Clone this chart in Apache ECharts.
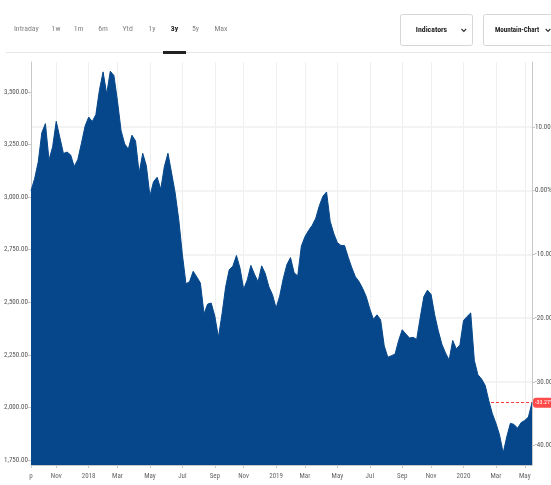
<!DOCTYPE html>
<html><head><meta charset="utf-8">
<script src="https://cdn.jsdelivr.net/npm/echarts@6/dist/echarts.min.js"></script>
<style>html,body{margin:0;padding:0;background:#fff}#c{width:551px;height:485px}</style>
</head><body><div id="c"></div>
<script>
// weekly dates (categories)
const dates = [
 '2017-09-15','2017-09-22','2017-09-29','2017-10-06','2017-10-13','2017-10-20','2017-10-27','2017-11-03','2017-11-10','2017-11-17','2017-11-24','2017-12-01','2017-12-08','2017-12-15','2017-12-22','2017-12-29',
 '2018-01-05','2018-01-12','2018-01-19','2018-01-26','2018-02-02','2018-02-09','2018-02-16','2018-02-23','2018-03-02','2018-03-09','2018-03-16','2018-03-23','2018-03-30','2018-04-06','2018-04-13','2018-04-20','2018-04-27',
 '2018-05-04','2018-05-11','2018-05-18','2018-05-25','2018-06-01','2018-06-08','2018-06-15','2018-06-22','2018-06-29','2018-07-06','2018-07-13','2018-07-20','2018-07-27','2018-08-03','2018-08-10','2018-08-17','2018-08-24','2018-08-31',
 '2018-09-07','2018-09-14','2018-09-21','2018-09-28','2018-10-05','2018-10-12','2018-10-19','2018-10-26','2018-11-02','2018-11-09','2018-11-16','2018-11-23','2018-11-30','2018-12-07','2018-12-14','2018-12-21','2018-12-28',
 '2019-01-04','2019-01-11','2019-01-18','2019-01-25','2019-02-01','2019-02-08','2019-02-15','2019-02-22','2019-03-01','2019-03-08','2019-03-15','2019-03-22','2019-03-29','2019-04-05','2019-04-12','2019-04-19','2019-04-26',
 '2019-05-03','2019-05-10','2019-05-17','2019-05-24','2019-05-31','2019-06-07','2019-06-14','2019-06-21','2019-06-28','2019-07-05','2019-07-12','2019-07-19','2019-07-26','2019-08-02','2019-08-09','2019-08-16','2019-08-23','2019-08-30',
 '2019-09-06','2019-09-13','2019-09-20','2019-09-27','2019-10-04','2019-10-11','2019-10-18','2019-10-25','2019-11-01','2019-11-08','2019-11-15','2019-11-22','2019-11-29','2019-12-06','2019-12-13','2019-12-20','2019-12-27',
 '2020-01-03','2020-01-10','2020-01-17','2020-01-24','2020-01-31','2020-02-07','2020-02-14','2020-02-21','2020-02-28','2020-03-06','2020-03-13','2020-03-20','2020-03-27','2020-04-03','2020-04-10','2020-04-17','2020-04-24',
 '2020-05-01','2020-05-08','2020-05-15'
];
const prices = [
 3030,3087,3166,3306,3349,3176,3239,3360,3283,3207,3214,3200,3145,3179,3256,3337,
 3380,3359,3392,3510,3595,3490,3598,3578,3455,3315,3252,3228,3294,3267,3115,3208,3149,
 3005,3073,3094,3037,3145,3208,3115,3019,2892,2726,2587,2598,2647,2620,2591,2445,2491,2496,
 2434,2333,2444,2572,2655,2671,2722,2661,2562,2606,2675,2633,2597,2673,2636,2573,2536,
 2472,2529,2613,2679,2712,2640,2625,2766,2811,2841,2865,2899,2959,3004,3024,2885,2827,
 2783,2770,2769,2714,2664,2621,2598,2566,2527,2468,2419,2440,2416,2293,2238,2246,2253,2318,
 2369,2349,2330,2333,2323,2428,2527,2557,2537,2440,2364,2300,2259,2225,2318,2278,2297,
 2413,2432,2449,2223,2155,2135,2105,2033,1970,1924,1869,1783,1860,1924,1919,1901,1928,
 1938,1954,2022
];
const priceTicks = [1750,2000,2250,2500,2750,3000,3250,3500];
const pctTicks = [-40,-30,-20,-10,0,10];
const monthNames = ['Jan','Feb','Mar','Apr','May','Jun','Jul','Aug','Sep','Oct','Nov','Dec'];
const firstLabel = 'p';
const rangeButtons = ['Intraday','1w','1m','6m','Ytd','1y','3y','5y','Max'];
const activeRange = '3y';
const menuButtons = ['Indicators','Mountain-Chart'];

const yMin = 1726, yMax = 3642;
const base = prices[0];
const last = prices[prices.length - 1];
const pctMin = (yMin / base - 1) * 100;
const pctMax = (yMax / base - 1) * 100;
const lastPct = (last / base - 1) * 100;

const FONT = "'Liberation Sans Narrow','Noto Sans ExtraCondensed','Noto Sans Condensed','Roboto Condensed','DejaVu Sans Condensed',sans-serif";
const BLUE = '#05478a';

function isTick(idx) {
  if (idx === 0) return true;
  const d = dates[idx];
  const m = +d.slice(5, 7), day = +d.slice(8, 10);
  return m % 2 === 1 && day <= 7;
}
function fmtPrice(v) {
  return String(v).replace(/\B(?=(\d{3})+(?!\d))/g, ',') + '.00';
}

const chart = echarts.init(document.getElementById('c'), null, {renderer: 'canvas'});

const graphics = [];
const btnX = [26.3, 56, 78.5, 103, 127.7, 152, 174.5, 195.5, 221];
rangeButtons.forEach((t, i) => {
  const active = t === activeRange;
  graphics.push({type: 'text', x: btnX[i], y: 29.5, silent: true,
    style: {text: t, font: (active ? 'bold ' : '') + '7.8px ' + FONT, fill: active ? '#222' : '#858585', align: 'center', verticalAlign: 'middle'}});
});
graphics.push({type: 'rect', shape: {x: 6, y: 52, width: 545, height: 1}, style: {fill: '#e6e6e6'}, silent: true});
graphics.push({type: 'rect', shape: {x: 163, y: 51, width: 23, height: 3}, style: {fill: '#222'}, silent: true});
// menu boxes
graphics.push({type: 'rect', shape: {x: 400.5, y: 14.5, width: 72, height: 31, r: 2}, style: {fill: '#fff', stroke: '#d6d6d6', lineWidth: 1}, silent: true});
graphics.push({type: 'text', x: 431.5, y: 30, silent: true, style: {text: menuButtons[0], font: 'bold 7.8px ' + FONT, fill: '#222', align: 'center', verticalAlign: 'middle'}});
graphics.push({type: 'polyline', shape: {points: [[461.5, 29], [463.8, 31.3], [466.1, 29]]}, style: {stroke: '#333', lineWidth: 1.2, fill: null}, silent: true});
graphics.push({type: 'rect', shape: {x: 483.5, y: 14.5, width: 80, height: 31, r: 2}, style: {fill: '#fff', stroke: '#d6d6d6', lineWidth: 1}, silent: true});
graphics.push({type: 'text', x: 495, y: 30, silent: true, style: {text: menuButtons[1], font: 'bold 7px ' + FONT, fill: '#222', align: 'left', verticalAlign: 'middle'}});
graphics.push({type: 'polyline', shape: {points: [[545.7, 29], [548, 31.3], [550.3, 29]]}, style: {stroke: '#333', lineWidth: 1.2, fill: null}, silent: true});

chart.setOption({
  animation: false,
  backgroundColor: '#fff',
  grid: {left: 31, right: 19, top: 62, bottom: 20, containLabel: false, outerBoundsMode: 'none'},
  graphic: graphics,
  xAxis: {
    type: 'category', data: dates, boundaryGap: false,
    axisLine: {show: true, onZero: false, lineStyle: {color: '#c8c8c8', width: 1}},
    axisTick: {show: true, interval: (i) => isTick(i), length: 3, lineStyle: {color: '#c8c8c8'}},
    splitLine: {show: true, interval: (i) => isTick(i), lineStyle: {color: '#efefef', width: 1}},
    axisLabel: {
      interval: (i) => isTick(i), fontSize: 7, fontFamily: FONT, color: '#666', margin: 8,
      formatter: (v, i) => {
        if (i === 0) return firstLabel;
        const m = +v.slice(5, 7);
        return m === 1 ? v.slice(0, 4) : monthNames[m - 1];
      }
    }
  },
  yAxis: [
    {
      type: 'value', position: 'left', min: yMin, max: yMax,
      axisLine: {show: true, onZero: false, lineStyle: {color: '#c8c8c8'}},
      axisTick: {show: true, length: 3, customValues: priceTicks, lineStyle: {color: '#c8c8c8'}},
      axisLabel: {customValues: priceTicks, formatter: fmtPrice, fontSize: 7, fontFamily: FONT, color: '#555', margin: 3},
      splitLine: {show: false}
    },
    {
      type: 'value', position: 'right', min: pctMin, max: pctMax,
      axisLine: {show: true, onZero: false, lineStyle: {color: '#c8c8c8'}},
      axisTick: {show: true, length: 3, customValues: pctTicks, lineStyle: {color: '#c8c8c8'}},
      axisLabel: {customValues: pctTicks, formatter: (v) => v.toFixed(2) + '%', fontSize: 7, fontFamily: FONT, color: '#555', margin: 3},
      splitLine: {show: true, lineStyle: {color: '#efefef', width: 1.5}}
    }
  ],
  series: [
    {
      type: 'line', data: prices, yAxisIndex: 0, symbol: 'none', silent: true, z: 3,
      lineStyle: {color: BLUE, width: 1}, areaStyle: {color: BLUE, opacity: 1, origin: 'start'}
    },
    {
      type: 'line', data: prices, yAxisIndex: 0, symbol: 'none', silent: true, z: 1,
      lineStyle: {opacity: 0, width: 0},
      markLine: {
        symbol: 'none', silent: true, z: 1, animation: false,
        lineStyle: {color: '#ff3b3b', type: [3, 2], width: 1},
        label: {show: true, position: 'end', distance: 1, formatter: lastPct.toFixed(2) + '%',
          backgroundColor: '#ff4a4a', color: '#fff', fontSize: 6, fontFamily: FONT, padding: [2, 1, 2, 2], borderRadius: 3},
        data: [{yAxis: last}]
      }
    }
  ]
});
</script></body></html>
